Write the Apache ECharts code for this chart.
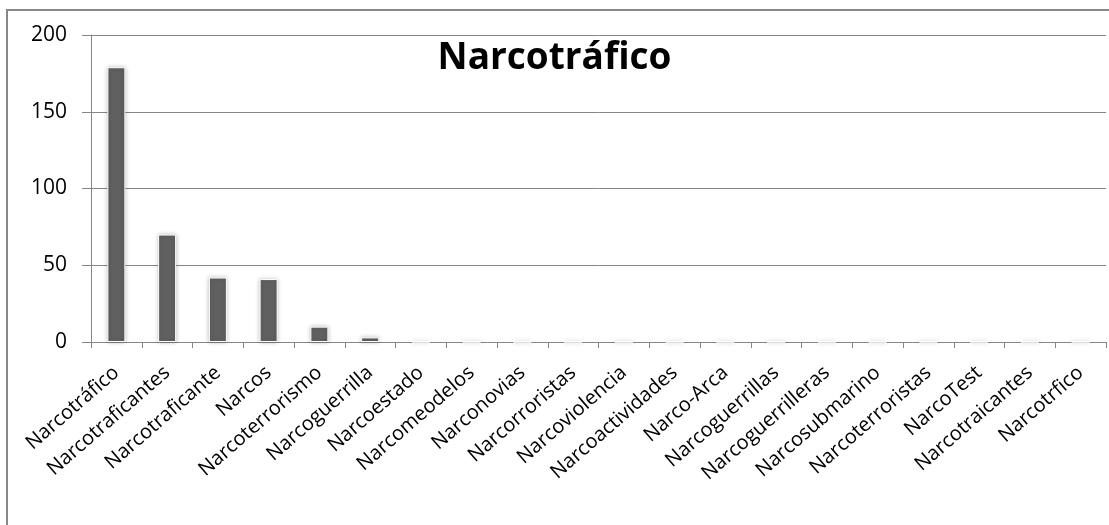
<!DOCTYPE html>
<html>
<head>
<meta charset="utf-8">
<script src="https://cdn.jsdelivr.net/npm/echarts@6/dist/echarts.min.js"></script>
<style>
html,body{margin:0;padding:0;background:#fff;}
#c{width:1109px;height:525px;}
</style>
</head>
<body>
<div id="c"></div>
<script>
const categories = ["Narcotráfico","Narcotraficantes","Narcotraficante","Narcos","Narcoterrorismo","Narcoguerrilla","Narcoestado","Narcomeodelos","Narconovias","Narcorroristas","Narcoviolencia","Narcoactividades","Narco-Arca","Narcoguerrillas","Narcoguerrilleras","Narcosubmarino","Narcoterroristas","NarcoTest","Narcotraicantes","Narcotrfico"];
const values = [179, 70, 42, 41, 10, 3, 0, 0, 0, 0, 0, 0, 0, 0, 0, 0, 0, 0, 0, 0];
const yTicks = [0, 50, 100, 150, 200];
const titleText = "Narcotráfico";

const chart = echarts.init(document.getElementById('c'), null, {renderer: 'canvas'});
const font = '"Open Sans", Lato, sans-serif';
chart.setOption({
  animation: false,
  backgroundColor: '#fff',
  textStyle: {fontFamily: font},
  title: {
    text: titleText,
    left: 'center',
    top: 35,
    textStyle: {fontFamily: font, fontWeight: 'bold', fontSize: 37, color: '#000'}
  },
  graphic: [{
    type: 'rect',
    shape: {x: 7, y: 10, width: 1110, height: 530},
    style: {fill: 'none', stroke: '#888', lineWidth: 2},
    silent: true
  }],
  grid: {left: 91, top: 35, right: 3, bottom: 183, containLabel: false},
  xAxis: {
    type: 'category',
    data: categories,
    axisLine: {lineStyle: {color: '#868686', width: 1}},
    axisTick: {show: true, length: 6, lineStyle: {color: '#868686'}},
    axisLabel: {rotate: 41, interval: 0, fontSize: 20, color: '#000', margin: 28, fontFamily: font}
  },
  yAxis: {
    type: 'value',
    min: yTicks[0],
    max: yTicks[yTicks.length - 1],
    interval: yTicks[1] - yTicks[0],
    axisLine: {show: true, lineStyle: {color: '#868686'}},
    axisTick: {show: true, length: 9, lineStyle: {color: '#868686'}},
    splitLine: {lineStyle: {color: '#868686', width: 1}},
    axisLabel: {fontSize: 21, color: '#000', margin: 24, fontFamily: font}
  },
  series: [{
    type: 'bar',
    data: values,
    barWidth: 18,
    itemStyle: {
      color: '#606060',
      borderColor: '#ffffff',
      borderWidth: 1,
      shadowBlur: 4,
      shadowColor: 'rgba(0,0,0,0.25)'
    }
  }]
});
</script>
</body>
</html>
